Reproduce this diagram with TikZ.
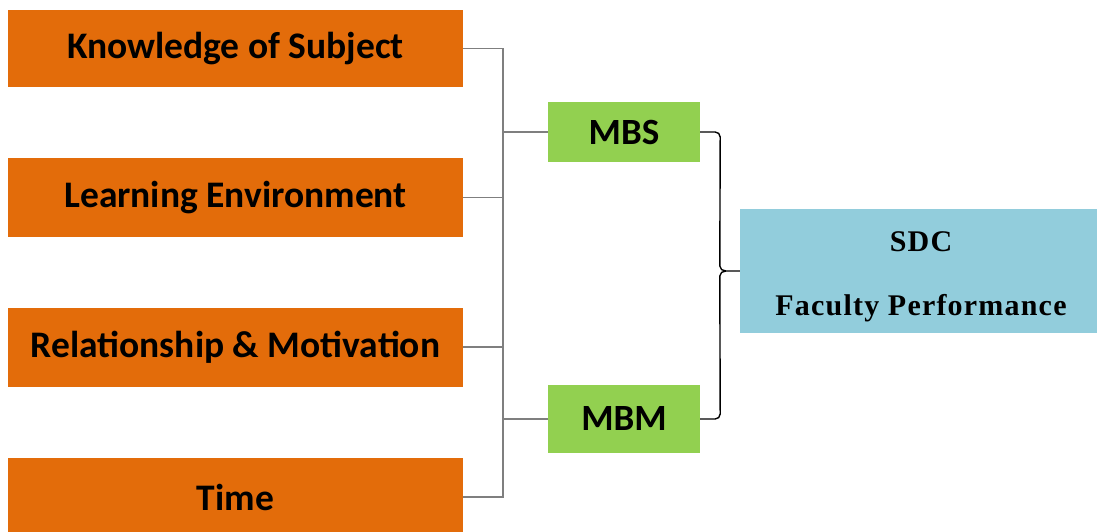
\documentclass[tikz,border=0pt]{standalone}
\usepackage{fontspec}
\setmainfont{Carlito}
\newfontfamily\sdcfont{Liberation Serif}[LetterSpace=4]
\usetikzlibrary{positioning}

\definecolor{factorc}{HTML}{E36C0A}
\definecolor{methodc}{HTML}{92D050}
\definecolor{resultc}{HTML}{92CDDC}
\definecolor{wirec}{HTML}{7F7F7F}

\begin{document}
\begin{tikzpicture}[x=1pt, y=1pt,
    factor/.style={fill=factorc, minimum width=455pt, inner sep=0pt,
                   font=\fontsize{37.5}{42}\selectfont\bfseries},
    method/.style={fill=methodc, minimum width=152pt, inner sep=0pt,
                   font=\fontsize{37}{42}\selectfont\bfseries},
    result/.style={fill=resultc, minimum width=362pt, minimum height=124pt,
                   inner sep=0pt, align=center,
                   font=\sdcfont\fontsize{30}{64}\selectfont\bfseries},
    wire/.style={draw=wirec, line width=1.6pt},
    bracket/.style={draw=black, line width=1.4pt}]
    \useasboundingbox (0,0) rectangle (1097,531);

    \node[factor, minimum height=77pt] (know) at (235.5,482.5) {Knowledge of Subject};
    \node[factor, minimum height=79pt] (learn) at (235.5,333.5) {Learning Environment};
    \node[factor, minimum height=79pt] (relat) at (235.5,184) {Relationship \& Motivation};
    \node[factor, minimum height=78pt] (time) at (235.5,34) {Time};

    \node[method, minimum height=60pt] (mbs) at (624,399) {MBS};
    \node[method, minimum height=68pt] (mbm) at (624,112) {MBM};

    \node[result] (sdc) at (921,260) {\rule{0pt}{31pt}SDC\\Faculty Performance};

    % left spine
    \draw[wire] (know.east) -- ++(40,0) coordinate (spine) -- (spine |- time.east) -- (time.east);
    \draw[wire] (learn.east) -- (spine |- learn.east);
    \draw[wire] (relat.east) -- (spine |- relat.east);
    \draw[wire] (spine |- mbs.west) -- (mbs.west);
    \draw[wire] (spine |- mbm.west) -- (mbm.west);

    % brace to SDC
    \coordinate (tip) at ([xshift=-14pt]sdc.west);
    \draw[bracket] (mbs.east) -- ++(15,0) to[out=0,in=90] ++(5,-5)
        -- ([xshift=-6pt,yshift=5pt]tip) to[out=-90,in=180] (tip) -- (sdc.west);
    \draw[bracket] (mbm.east) -- ++(15,0) to[out=0,in=-90] ++(5,5)
        -- ([xshift=-6pt,yshift=-5pt]tip) to[out=90,in=180] (tip);
\end{tikzpicture}
\end{document}
